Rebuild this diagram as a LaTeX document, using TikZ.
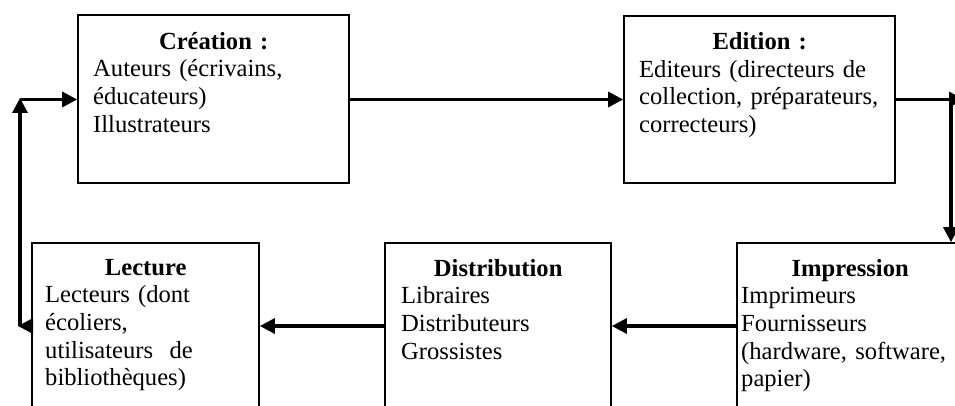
\documentclass[tikz,border=0pt]{standalone}
\usepackage{fontspec}
\setmainfont{Liberation Serif}
\usetikzlibrary{arrows.meta}
\begin{document}
\begin{tikzpicture}[x=1pt,y=-1pt,
  box/.style={draw=black, line width=1.7pt, rectangle, inner sep=0pt, fill=white},
  txt/.style={anchor=north west, inner sep=0pt, align=left,
    font=\fontsize{24.6}{27.6}\selectfont},
  conn/.style={line width=3.2pt, -{Triangle[length=15pt,width=15pt]}}]
\useasboundingbox (0,0) rectangle (955,406);
\clip (0,0) rectangle (955,406);
\fill[white] (0,0) rectangle (955,406);

% boxes
\node[box, minimum width=271pt, minimum height=168pt] (cre) at (213.5,99) {};
\node[box, minimum width=271pt, minimum height=167pt] (edi) at (759.5,99.5) {};
\node[box, minimum width=227pt, minimum height=187pt] (lec) at (145.5,336.5) {};
\node[box, minimum width=226pt, minimum height=187pt] (dis) at (498,336.5) {};
\node[box, minimum width=226pt, minimum height=187pt] (imp) at (850,336.5) {};

% texts
\node[txt, text width=241pt] (creT) at (93,32)
  {\makebox[\linewidth]{\bfseries Création :}\\
   Auteurs (écrivains,\\ éducateurs)\\ Illustrateurs};
\node[txt, text width=241pt] (ediT) at (639,32.5)
  {\makebox[\linewidth]{\bfseries Edition :}\\
   \makebox[238pt][s]{Editeurs (directeurs de}\\
   collection, préparateurs,\\ correcteurs)};
\node[txt, text width=201pt] (lecT) at (45,259)
  {\makebox[\linewidth]{\bfseries Lecture}\\
   Lecteurs (dont\\ écoliers,\\ utilisateurs\ \ de\\ bibliothèques)};
\node[txt, text width=194pt] (disT) at (401,259)
  {\makebox[\linewidth]{\bfseries Distribution}\\
   Libraires\\ Distributeurs\\ Grossistes};
\node[txt, text width=218pt] (impT) at (741,259)
  {\makebox[\linewidth]{\bfseries Impression}\\
   Imprimeurs\\ Fournisseurs\\ (hardware, software,\\ papier)};

% helper coordinates
\coordinate (trh) at (964,99.5);
\coordinate (trv) at (951,99.5);
\coordinate (low) at (0,326);
\coordinate (blh) at (18,326);
\coordinate (blv) at (20,326);
\coordinate (tlv) at (20,98);
\coordinate (tlh) at (20,99.5);

% connectors
\draw[conn] (cre.east |- tlh) -- (edi.west |- tlh);
\draw[conn] (edi.east |- trh) -- (trh);
\draw[conn] (trv) -- (trv |- imp.north);
\draw[conn] (imp.west |- low) -- (dis.east |- low);
\draw[conn] (dis.west |- low) -- (lec.east |- low);
\draw[conn] (lec.west |- low) -- (blh);
\draw[conn] (blv) -- (tlv);
\draw[conn] (tlh) -- (cre.west |- tlh);
\end{tikzpicture}
\end{document}
